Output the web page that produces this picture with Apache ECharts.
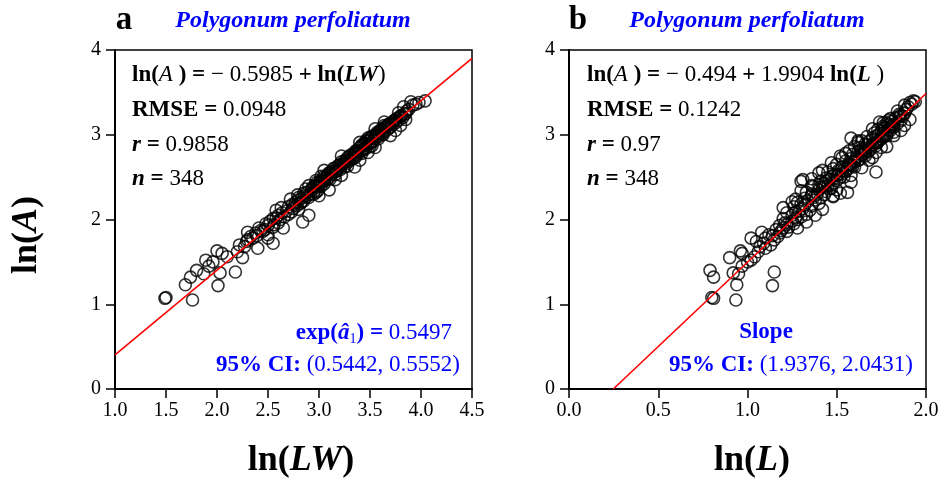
<!DOCTYPE html>
<html>
<head>
<meta charset="utf-8">
<title>ln(A) vs ln(LW) and ln(L)</title>
<script src="https://cdn.jsdelivr.net/npm/echarts@6/dist/echarts.min.js"></script>
<style>
    html, body { margin: 0; padding: 0; background: #fff; }
    #chart { width: 944px; height: 488px; }
</style>
</head>
<body>
<div id="chart"></div>
<script>
// Leaf data (same leaves in both panels)
const lnA = [
    1.07, 1.08, 1.05, 1.23, 1.22, 1.32, 1.40, 1.37, 1.38, 1.36,
    1.45, 1.50, 1.52, 1.55, 1.56, 1.60, 1.62, 1.63, 1.66, 1.68,
    1.70, 1.72, 1.74, 1.76, 1.78, 1.80, 1.82, 1.84, 1.85, 1.86,
    1.88, 1.90, 1.91, 1.93, 1.95, 1.96, 1.98, 2.00, 2.01, 2.03,
    2.05, 2.06, 2.08, 2.10, 2.11, 2.13, 2.15, 2.16, 2.18, 2.19,
    2.20, 2.22, 2.23, 2.25, 2.26, 2.28, 2.29, 2.30, 2.32, 2.33,
    2.35, 2.36, 2.38, 2.39, 2.40, 2.42, 2.43, 2.45, 2.46, 2.47,
    2.49, 2.50, 2.51, 2.53, 2.54, 2.56, 2.57, 2.58, 2.60, 2.61,
    2.62, 2.64, 2.65, 2.66, 2.68, 2.69, 2.70, 2.72, 2.73, 2.74,
    2.76, 2.77, 2.78, 2.80, 2.81, 2.82, 2.84, 2.85, 2.86, 2.88,
    2.89, 2.90, 2.92, 2.93, 2.94, 2.96, 2.97, 2.98, 3.00, 3.01,
    3.02, 3.04, 3.05, 3.06, 3.08, 3.09, 3.10, 3.12, 3.13, 3.14,
    3.16, 3.17, 3.19, 3.20, 3.22, 3.24, 3.26, 3.28, 3.30, 3.33,
    3.35, 3.38, 3.40, 2.47, 2.45, 2.56, 2.32, 2.96, 1.97, 2.05,
    2.14, 2.35, 2.62, 2.70, 2.85, 2.99, 3.05, 3.18, 2.24, 2.40,
    2.58, 2.75, 2.91, 3.07, 3.15, 2.12, 2.28, 2.52, 2.79, 3.11,
    1.90, 1.78, 3.36, 3.39, 2.21, 2.27, 2.31, 2.34, 2.37, 2.41,
    2.44, 2.48, 2.50, 2.53, 2.55, 2.59, 2.61, 2.63, 2.67, 2.71,
    2.73, 2.75, 2.78, 2.81, 2.83, 2.86, 2.88, 2.91, 2.93, 2.95,
    2.98, 3.00, 3.03, 3.06, 3.08, 3.11, 3.14, 3.17, 3.21, 3.25,
    2.17, 2.09, 2.02, 1.94, 1.87, 1.81, 2.26, 2.39, 2.52, 2.64,
    2.77, 2.90, 3.02, 3.12, 2.45, 2.69, 2.83, 2.99, 3.23, 2.30,
    2.57, 2.80, 2.87, 3.09
];
const lnLW = [
    1.49, 1.50, 1.76, 1.69, 2.01, 1.74, 1.80, 2.03, 2.18, 1.87,
    1.92, 1.96, 1.89, 2.25, 2.10, 2.05, 2.20, 2.00, 2.40, 2.27,
    2.22, 2.55, 2.29, 2.30, 2.35, 2.33, 2.50, 2.38, 2.30, 2.45,
    2.47, 2.41, 2.55, 2.50, 2.48, 2.60, 2.52, 2.62, 2.55, 2.66,
    2.60, 2.70, 2.64, 2.68, 2.58, 2.75, 2.70, 2.78, 2.74, 2.82,
    2.77, 2.85, 2.80, 2.83, 2.90, 2.86, 2.79, 2.92, 2.88, 2.95,
    2.93, 2.87, 2.98, 3.02, 2.96, 3.05, 3.00, 3.03, 2.97, 3.08,
    3.06, 3.10, 3.02, 3.12, 3.09, 3.15, 3.13, 3.18, 3.14, 3.20,
    3.25, 3.19, 3.23, 3.27, 3.22, 3.30, 3.26, 3.33, 3.28, 3.36,
    3.31, 3.38, 3.34, 3.40, 3.36, 3.43, 3.39, 3.46, 3.41, 3.48,
    3.44, 3.50, 3.47, 3.53, 3.49, 3.56, 3.52, 3.58, 3.55, 3.62,
    3.58, 3.64, 3.60, 3.67, 3.63, 3.70, 3.66, 3.72, 3.69, 3.75,
    3.73, 3.78, 3.76, 3.82, 3.80, 3.84, 3.78, 3.86, 3.88, 3.83,
    3.92, 3.98, 4.04, 3.16, 3.05, 3.12, 2.97, 3.48, 2.84, 2.90,
    2.63, 3.10, 3.35, 3.40, 3.55, 3.70, 3.75, 3.85, 2.72, 2.90,
    3.05, 3.22, 3.40, 3.55, 3.64, 2.80, 3.00, 3.22, 3.48, 3.80,
    2.65, 2.50, 3.95, 3.90, 2.83, 2.88, 2.85, 2.99, 2.93, 3.01,
    2.98, 3.11, 3.04, 3.16, 3.10, 3.21, 3.16, 3.28, 3.24, 3.30,
    3.35, 3.30, 3.42, 3.38, 3.45, 3.50, 3.42, 3.52, 3.46, 3.58,
    3.51, 3.63, 3.57, 3.61, 3.69, 3.64, 3.71, 3.74, 3.79, 3.85,
    2.76, 2.73, 2.58, 2.56, 2.43, 2.39, 2.80, 2.95, 3.08, 3.20,
    3.35, 3.45, 3.61, 3.68, 3.01, 3.27, 3.44, 3.56, 3.81, 2.95,
    3.17, 3.37, 3.52, 3.66
];
const lnL = [
    0.81, 0.80, 0.935, 0.94, 1.14, 0.81, 0.79, 0.92, 1.15, 0.95,
    0.97, 1.00, 1.02, 0.90, 1.04, 0.97, 1.06, 0.96, 1.10, 1.07,
    1.13, 1.09, 1.05, 1.15, 1.10, 1.17, 1.12, 1.18, 1.08, 1.22,
    1.16, 1.20, 1.23, 1.18, 1.26, 1.21, 1.25, 1.28, 1.20, 1.30,
    1.25, 1.33, 1.22, 1.29, 1.35, 1.31, 1.26, 1.36, 1.30, 1.40,
    1.28, 1.34, 1.38, 1.32, 1.41, 1.36, 1.43, 1.39, 1.33, 1.44,
    1.40, 1.46, 1.42, 1.37, 1.45, 1.43, 1.48, 1.41, 1.50, 1.46,
    1.44, 1.52, 1.47, 1.49, 1.53, 1.45, 1.55, 1.51, 1.48, 1.56,
    1.53, 1.58, 1.50, 1.57, 1.60, 1.55, 1.62, 1.58, 1.53, 1.61,
    1.64, 1.59, 1.66, 1.62, 1.57, 1.65, 1.68, 1.63, 1.60, 1.70,
    1.66, 1.72, 1.68, 1.64, 1.74, 1.70, 1.76, 1.67, 1.73, 1.78,
    1.71, 1.75, 1.80, 1.73, 1.77, 1.82, 1.76, 1.79, 1.84, 1.78,
    1.81, 1.86, 1.80, 1.83, 1.87, 1.85, 1.88, 1.84, 1.89, 1.90,
    1.88, 1.91, 1.93, 1.31, 1.30, 1.72, 1.56, 1.58, 1.33, 1.38,
    1.20, 1.50, 1.60, 1.68, 1.75, 1.82, 1.86, 1.91, 1.27, 1.36,
    1.42, 1.52, 1.62, 1.70, 1.74, 1.42, 1.48, 1.58, 1.72, 1.88,
    1.28, 1.02, 1.92, 1.94, 1.25, 1.48, 1.52, 1.30, 1.47, 1.40,
    1.58, 1.36, 1.54, 1.51, 1.40, 1.56, 1.64, 1.59, 1.47, 1.63,
    1.70, 1.66, 1.55, 1.68, 1.64, 1.78, 1.67, 1.73, 1.62, 1.75,
    1.72, 1.77, 1.82, 1.79, 1.76, 1.81, 1.76, 1.79, 1.85, 1.88,
    1.32, 1.27, 1.27, 1.22, 1.19, 1.14, 1.37, 1.43, 1.50, 1.57,
    1.64, 1.71, 1.76, 1.82, 1.44, 1.60, 1.69, 1.78, 1.86, 1.36,
    1.53, 1.66, 1.72, 1.80
];

// Fitted lines: [intercept, slope]
const fitLW = [-0.5985, 1];
const fitL = [-0.494, 1.9904];

// Axis ranges
const xRangeLW = [1.0, 4.5];
const xRangeL = [0.0, 2.0];
const yRange = [0, 4];

const SERIF = '"Liberation Serif", "Times New Roman", serif';
const BLUE = '#0000ff';
const TXT = 23;

function fitLine(fit, x0, x1) {
    return [[x0, fit[0] + fit[1] * x0], [x1, fit[0] + fit[1] * x1]];
}

// Rich text styles shared by the annotation blocks (graphic text uses fill)
const richStyles = {
    b: { fontFamily: SERIF, fontSize: TXT, fontWeight: 'bold', fill: '#000' },
    bi: { fontFamily: SERIF, fontSize: TXT, fontWeight: 'bold', fontStyle: 'italic', fill: '#000' },
    i: { fontFamily: SERIF, fontSize: TXT, fontStyle: 'italic', fill: '#000' },
    r: { fontFamily: SERIF, fontSize: TXT, fill: '#000' },
    bb: { fontFamily: SERIF, fontSize: TXT, fontWeight: 'bold', fill: BLUE },
    bbi: { fontFamily: SERIF, fontSize: TXT, fontWeight: 'bold', fontStyle: 'italic', fill: BLUE },
    br: { fontFamily: SERIF, fontSize: TXT, fill: BLUE },
    bsub: { fontFamily: SERIF, fontSize: 14, fill: BLUE, padding: [12, 0, 0, 0] }
};

function richText(x, y, text, align) {
    return {
        type: 'text',
        x: x,
        y: y,
        style: {
            text: text,
            rich: richStyles,
            align: align || 'left',
            verticalAlign: 'middle'
        }
    };
}

function plainText(x, y, text, opts) {
    return {
        type: 'text',
        x: x,
        y: y,
        style: {
            text: text,
            fontFamily: SERIF,
            fontSize: opts.fontSize,
            fontWeight: opts.fontWeight || 'normal',
            fontStyle: opts.fontStyle || 'normal',
            fill: opts.color || '#000',
            align: 'center',
            verticalAlign: 'middle'
        }
    };
}

function axisTitle(x, y, name, rotation) {
    return {
        type: 'text',
        x: x,
        y: y,
        rotation: rotation || 0,
        style: {
            text: '{b|ln(}{bi|' + name + '}{b|)}',
            rich: {
                b: { fontFamily: SERIF, fontSize: 36, fontWeight: 'bold', fill: '#000' },
                bi: { fontFamily: SERIF, fontSize: 36, fontWeight: 'bold', fontStyle: 'italic', fill: '#000' }
            },
            align: 'center',
            verticalAlign: 'middle'
        }
    };
}

function makeXAxis(gridIndex, range) {
    return {
        type: 'value',
        gridIndex: gridIndex,
        min: range[0],
        max: range[1],
        interval: 0.5,
        axisLine: { show: true, onZero: false, lineStyle: { color: '#000', width: 2 } },
        axisTick: { show: true, inside: false, length: 9, lineStyle: { color: '#000', width: 1.5 } },
        axisLabel: {
            margin: 12,
            fontFamily: SERIF,
            fontSize: 20,
            color: '#000',
            formatter: v => v.toFixed(1)
        },
        splitLine: { show: false }
    };
}

function makeYAxis(gridIndex) {
    return {
        type: 'value',
        gridIndex: gridIndex,
        min: yRange[0],
        max: yRange[1],
        interval: 1,
        axisLine: { show: true, onZero: false, lineStyle: { color: '#000', width: 2 } },
        axisTick: { show: true, inside: false, length: 9, lineStyle: { color: '#000', width: 1.5 } },
        axisLabel: { margin: 14, fontFamily: SERIF, fontSize: 20, color: '#000' },
        splitLine: { show: false }
    };
}

function scatterSeries(index, xs) {
    return {
        type: 'scatter',
        xAxisIndex: index,
        yAxisIndex: index,
        symbol: 'circle',
        symbolSize: 12,
        data: xs.map((x, i) => [x, lnA[i]]),
        itemStyle: { color: 'rgba(0,0,0,0)', borderColor: '#000', borderWidth: 1.6 },
        silent: true
    };
}

function lineSeries(index, data) {
    return {
        type: 'line',
        xAxisIndex: index,
        yAxisIndex: index,
        data: data,
        symbol: 'none',
        lineStyle: { color: '#ff0000', width: 1.6 },
        clip: true,
        silent: true
    };
}

const chart = echarts.init(document.getElementById('chart'), null, { renderer: 'canvas' });

const option = {
    animation: false,
    backgroundColor: '#fff',
    grid: [
        { left: 115, top: 50, width: 357, height: 339, show: true, borderColor: '#000', borderWidth: 1.5, backgroundColor: 'transparent' },
        { left: 569, top: 50, width: 357, height: 339, show: true, borderColor: '#000', borderWidth: 1.5, backgroundColor: 'transparent' }
    ],
    xAxis: [makeXAxis(0, xRangeLW), makeXAxis(1, xRangeL)],
    yAxis: [makeYAxis(0), makeYAxis(1)],
    series: [
        scatterSeries(0, lnLW),
        lineSeries(0, fitLine(fitLW, xRangeLW[0], xRangeLW[1])),
        scatterSeries(1, lnL),
        lineSeries(1, fitLine(fitL, -fitL[0] / fitL[1], xRangeL[1]))
    ],
    graphic: [
        // Panel letters and species titles
        plainText(124, 20, 'a', { fontSize: 33, fontWeight: 'bold' }),
        plainText(293, 21, 'Polygonum perfoliatum', { fontSize: 24, fontWeight: 'bold', fontStyle: 'italic', color: BLUE }),
        plainText(578, 20, 'b', { fontSize: 33, fontWeight: 'bold' }),
        plainText(747, 21, 'Polygonum perfoliatum', { fontSize: 24, fontWeight: 'bold', fontStyle: 'italic', color: BLUE }),

        // Axis titles
        axisTitle(27, 235, 'A', Math.PI / 2),
        axisTitle(301, 461, 'LW'),
        axisTitle(752, 461, 'L'),

        // Panel a statistics
        richText(132, 75, '{b|ln(}{i|A}{b| ) = }{r|− 0.5985 }{b|+ ln(}{bi|LW}{r|)}'),
        richText(132, 110, '{b|RMSE = }{r|0.0948}'),
        richText(132, 145, '{bi|r}{b| = }{r|0.9858}'),
        richText(132, 179, '{bi|n}{b| = }{r|348}'),
        richText(452, 333, '{bb|exp(}{bbi|â}{bsub|1}{bb|) = }{br|0.5497}', 'right'),
        richText(460, 365, '{bb|95% CI: }{br|(0.5442, 0.5552)}', 'right'),

        // Panel b statistics
        richText(587, 75, '{b|ln(}{i|A}{b| ) = }{r|− 0.494 }{b|+ }{r|1.9904 }{b|ln(}{bi|L}{r| )}'),
        richText(587, 110, '{b|RMSE = }{r|0.1242}'),
        richText(587, 145, '{bi|r}{b| = }{r|0.97}'),
        richText(587, 179, '{bi|n}{b| = }{r|348}'),
        richText(766, 332, '{bb|Slope}', 'center'),
        richText(913, 365, '{bb|95% CI: }{br|(1.9376, 2.0431)}', 'right')
    ]
};

chart.setOption(option);
</script>
</body>
</html>
